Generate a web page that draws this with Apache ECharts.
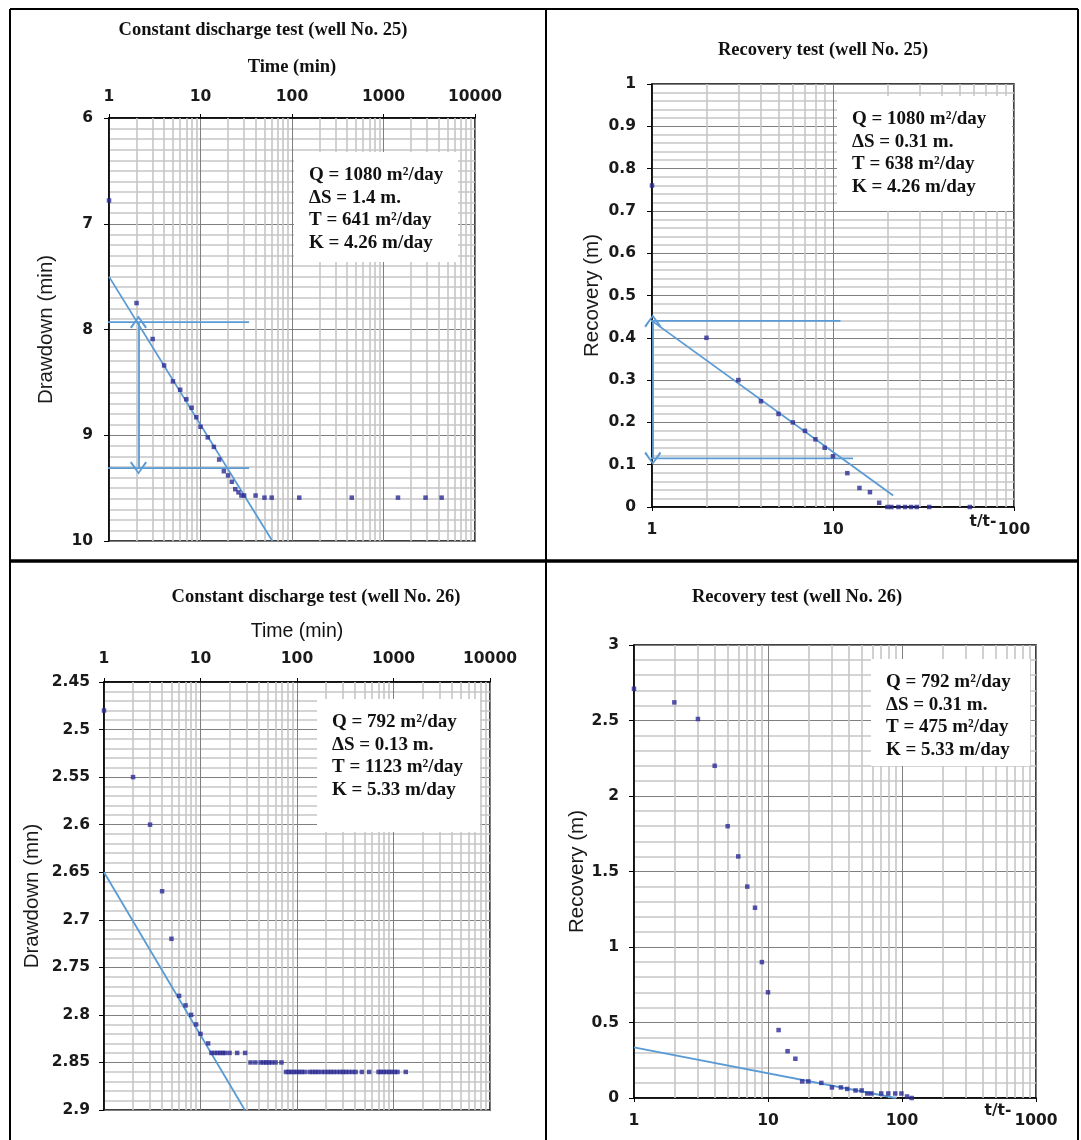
<!DOCTYPE html>
<html><head><meta charset="utf-8">
<script src="https://cdn.jsdelivr.net/npm/echarts@6/dist/echarts.min.js"></script>
<style>html,body{margin:0;padding:0;background:#fff}#c{width:1081px;height:1140px}</style>
</head><body><div id="c"></div>
<script>
// ---------- Panel 1: Constant discharge test (well No. 25) ----------
const P1_TIME = [1,2,3,4,5,6,7,8,9,10,12,14,16,18,20,22,24,26,28,30,40,50,60,120,450,1440,2880,4320];
const P1_DRAWDOWN = [6.78,7.75,8.09,8.34,8.49,8.57,8.66,8.74,8.83,8.92,9.02,9.11,9.23,9.34,9.38,9.44,9.51,9.54,9.57,9.57,9.57,9.59,9.59,9.59,9.59,9.59,9.59,9.59];
const P1_FIT_T = [1, 61];
const P1_FIT_S = [7.5, 10];
const P1_DS_LEVELS = [7.93, 9.31];
const P1_DS_T = [[0.14, 34], [0.157, 34]];
const P1_ARROW_T = 2.1;

// ---------- Panel 2: Recovery test (well No. 25) ----------
const P2_RATIO = [1,2,3,4,5,6,7,8,9,10,12,14,16,18,20,21,23,25,27,29,34,57];
const P2_RECOVERY = [0.76,0.40,0.30,0.25,0.22,0.20,0.18,0.16,0.14,0.12,0.08,0.045,0.035,0.01,0,0,0,0,0,0,0,0];
const P2_FIT_T = [1, 21.5];
const P2_FIT_R = [0.44, 0.027];
const P2_DS_LEVELS = [0.44, 0.115];
const P2_DS_T = [[0.61, 11], [0.6, 12.9]];
const P2_ARROW_T = 1.01;

// ---------- Panel 3: Constant discharge test (well No. 26) ----------
const P3_TIME = [1,2,3,4,5,6,7,8,9,10,12,
  13,14,15,16,17,18,20,24,29,
  33,37,42,45,48,51,55,60,69,
  77,82,87,93,99,105,112,120,135,145,155,165,180,195,210,225,240,260,280,300,320,345,375,405,470,560,700,740,790,840,900,960,1030,1100,1340];
const P3_DRAWDOWN = [2.48,2.55,2.60,2.67,2.72,2.78,2.79,2.80,2.81,2.82,2.83,
  2.84,2.84,2.84,2.84,2.84,2.84,2.84,2.84,2.84,
  2.85,2.85,2.85,2.85,2.85,2.85,2.85,2.85,2.85,
  2.86,2.86,2.86,2.86,2.86,2.86,2.86,2.86,2.86,2.86,2.86,2.86,2.86,2.86,2.86,2.86,2.86,2.86,2.86,2.86,2.86,2.86,2.86,2.86,2.86,2.86,2.86,2.86,2.86,2.86,2.86,2.86,2.86,2.86,2.86];
const P3_FIT_T = [1, 28.8];
const P3_FIT_S = [2.65, 2.9];

// ---------- Panel 4: Recovery test (well No. 26) ----------
const P4_RATIO = [1,2,3,4,5,6,7,8,9,10,12,14,16,18,20,25,30,35,39,45,50,55,59,70,79,89,99,109,118];
const P4_RECOVERY = [2.71,2.62,2.51,2.2,1.8,1.6,1.4,1.26,0.9,0.7,0.45,0.31,0.26,0.11,0.11,0.1,0.07,0.07,0.06,0.05,0.05,0.03,0.03,0.03,0.03,0.03,0.03,0.01,0];
const P4_FIT_T = [1, 90];
const P4_FIT_R = [0.335, 0];

const TITLES = [
  'Constant discharge test (well No. 25)',
  'Recovery test (well No. 25)',
  'Constant discharge test (well No. 26)',
  'Recovery test (well No. 26)'
];
const BOX_TEXT = [
  'Q = 1080 m²/day\nΔS = 1.4 m.\nT = 641 m²/day\nK = 4.26 m/day',
  'Q = 1080 m²/day\nΔS = 0.31 m.\nT = 638 m²/day\nK = 4.26 m/day',
  'Q = 792 m²/day\nΔS = 0.13 m.\nT = 1123 m²/day\nK = 5.33 m/day',
  'Q = 792 m²/day\nΔS = 0.31 m.\nT = 475 m²/day\nK = 5.33 m/day'
];

// ---------- helpers ----------
const zip = (a, b) => a.map((v, i) => [v, b[i]]);
const DOT = '#2b2b94';
const FIT = '#5b9bd5';
const MAJOR = '#7f7f7f';
const MINOR = '#c6c6c6';
const SANS = '"Liberation Sans", Arial, sans-serif';
const WIDE = '"DejaVu Sans", "Liberation Sans", sans-serif';
const SERIF = '"Liberation Serif", "Times New Roman", serif';
const CHEV = 'path://M0,9 L5,0 L10,9 L9,10 L5,2.2 L1,10 Z';

function minorLogValues(decades) {
  const out = [];
  for (let d = 0; d < decades; d++) for (let k = 2; k <= 9; k++) out.push({ xAxis: k * Math.pow(10, d) });
  return out;
}

const grids = [
  { left: 109, top: 118, width: 366, height: 423 },
  { left: 652, top: 84, width: 362, height: 423 },
  { left: 104, top: 682, width: 386, height: 428 },
  { left: 634, top: 645, width: 402, height: 453 }
].map(g => Object.assign({ show: true, borderColor: '#000', borderWidth: 1.5, backgroundColor: 'transparent' }, g));

const tickLabel = { fontFamily: WIDE, fontWeight: 'bold', fontSize: 15.5, color: '#1a1a1a' };

function xAxis(idx, max, pos, name, nameFont, nameGap, margin) {
  return {
    type: 'log', logBase: 10, gridIndex: idx, min: 1, max: max, position: pos,
    name: name, nameLocation: 'middle', nameGap: nameGap,
    nameTextStyle: nameFont,
    axisLine: { show: true, onZero: false, lineStyle: { color: '#000', width: 1.5 } },
    axisTick: { show: true, length: 4, lineStyle: { color: '#000' } },
    axisLabel: Object.assign({ margin: margin, formatter: v => String(Math.round(v)) }, tickLabel),
    splitLine: { show: true, lineStyle: { color: MAJOR, width: 1 } },
    minorTick: { show: false }, minorSplitLine: { show: false }
  };
}
function yAxis(idx, min, max, interval, inverse, minorN, name, nameGap, margin) {
  return {
    type: 'value', gridIndex: idx, min, max, interval, inverse,
    name, nameLocation: 'middle', nameGap,
    nameTextStyle: { fontFamily: SANS, fontSize: 20.5, color: '#1a1a1a' },
    axisLine: { show: true, onZero: false, lineStyle: { color: '#000', width: 1.5 } },
    axisTick: { show: true, length: 5, lineStyle: { color: '#000' } },
    axisLabel: Object.assign({ margin: margin }, tickLabel),
    splitLine: { show: true, lineStyle: { color: MAJOR, width: 1 } },
    minorTick: { show: false, splitNumber: minorN },
    minorSplitLine: { show: true, lineStyle: { color: MINOR, width: 1.6 } }
  };
}

function gridMinor(idx, decades) {
  return {
    type: 'line', xAxisIndex: idx, yAxisIndex: idx, data: [], silent: true, z: 1,
    markLine: {
      silent: true, symbol: ['none', 'none'], label: { show: false }, animation: false,
      lineStyle: { color: MINOR, width: 1.6, type: 'solid' },
      emphasis: { disabled: true },
      data: minorLogValues(decades)
    }
  };
}
function scatter(idx, data) {
  return { type: 'scatter', xAxisIndex: idx, yAxisIndex: idx, data, symbol: 'rect', symbolSize: 4.5,
    itemStyle: { color: DOT }, z: 6, silent: true, animation: false };
}
function fitLine(idx, data, clip) {
  return { type: 'line', xAxisIndex: idx, yAxisIndex: idx, data, symbol: 'none', clip: clip,
    lineStyle: { color: FIT, width: 1.8 }, z: 5, silent: true, animation: false };
}
function arrow(idx, x, y1, y2) {
  return {
    type: 'line', xAxisIndex: idx, yAxisIndex: idx, data: [], z: 5, silent: true,
    markLine: {
      silent: true, animation: false, symbol: [CHEV, CHEV], symbolSize: [17, 13],
      label: { show: false }, itemStyle: { color: FIT },
      lineStyle: { color: FIT, width: 1.8, type: 'solid' },
      emphasis: { disabled: true },
      data: [[{ coord: [x, y1] }, { coord: [x, y2] }]]
    }
  };
}

const series = [
  gridMinor(0, 4), gridMinor(1, 2), gridMinor(2, 4), gridMinor(3, 3),
  // panel 1
  fitLine(0, zip(P1_FIT_T, P1_FIT_S), true),
  fitLine(0, [[P1_DS_T[0][0], P1_DS_LEVELS[0]], [P1_DS_T[0][1], P1_DS_LEVELS[0]]], false),
  fitLine(0, [[P1_DS_T[1][0], P1_DS_LEVELS[1]], [P1_DS_T[1][1], P1_DS_LEVELS[1]]], false),
  arrow(0, P1_ARROW_T, P1_DS_LEVELS[0], P1_DS_LEVELS[1]),
  scatter(0, zip(P1_TIME, P1_DRAWDOWN)),
  // panel 2
  fitLine(1, zip(P2_FIT_T, P2_FIT_R), true),
  fitLine(1, [[P2_DS_T[0][0], P2_DS_LEVELS[0]], [P2_DS_T[0][1], P2_DS_LEVELS[0]]], false),
  fitLine(1, [[P2_DS_T[1][0], P2_DS_LEVELS[1]], [P2_DS_T[1][1], P2_DS_LEVELS[1]]], false),
  arrow(1, P2_ARROW_T, P2_DS_LEVELS[0], P2_DS_LEVELS[1]),
  scatter(1, zip(P2_RATIO, P2_RECOVERY)),
  // panel 3
  fitLine(2, zip(P3_FIT_T, P3_FIT_S), true),
  scatter(2, zip(P3_TIME, P3_DRAWDOWN)),
  // panel 4
  fitLine(3, zip(P4_FIT_T, P4_FIT_R), true),
  scatter(3, zip(P4_RATIO, P4_RECOVERY))
];

function box(x, y, w, h, text) {
  return [
    { type: 'rect', z: 50, silent: true, shape: { x, y, width: w, height: h }, style: { fill: '#fff' } },
    { type: 'text', z: 51, silent: true, x: x + 15, y: y + 12,
      style: { text, font: 'bold 19px ' + SERIF, fill: '#111', lineHeight: 22.6, verticalAlign: 'top', align: 'left' } }
  ];
}
function title(x, y, text) {
  return { type: 'text', z: 51, silent: true, x, y,
    style: { text, font: 'bold 18.5px ' + SERIF, fill: '#111', align: 'center', verticalAlign: 'middle' } };
}
function line(x1, y1, x2, y2, w) {
  return { type: 'line', z: 60, silent: true, shape: { x1, y1, x2, y2 }, style: { stroke: '#000', lineWidth: w } };
}
function tt(x, y) {
  return { type: 'text', z: 51, silent: true, x, y,
    style: { text: 't/t-', font: 'bold 15.5px ' + WIDE, fill: '#1a1a1a', align: 'center', verticalAlign: 'middle' } };
}

const graphics = [
  line(10, 9, 1078, 9, 2), line(10, 9, 10, 1140, 2), line(1078, 9, 1078, 1140, 2),
  line(546, 9, 546, 1140, 2), line(10, 561, 1078, 561, 3.5),
  title(263, 30, TITLES[0]),
  title(823, 50, TITLES[1]),
  title(316, 597, TITLES[2]),
  title(797, 597, TITLES[3]),
  tt(983, 522), tt(998, 1111)
].concat(box(294, 152, 164, 110, BOX_TEXT[0]))
 .concat(box(837, 96, 175, 115, BOX_TEXT[1]))
 .concat(box(317, 699, 163, 133, BOX_TEXT[2]))
 .concat(box(871, 659, 159, 107, BOX_TEXT[3]));

const option = {
  animation: false,
  backgroundColor: '#fff',
  grid: grids,
  xAxis: [
    xAxis(0, 10000, 'top', 'Time (min)', { fontFamily: SERIF, fontWeight: 'bold', fontSize: 18.5, color: '#111' }, 41, 13),
    xAxis(1, 100, 'bottom', '', {}, 30, 15),
    xAxis(2, 10000, 'top', 'Time (min)', { fontFamily: SANS, fontSize: 19.5, color: '#111' }, 40, 15),
    xAxis(3, 1000, 'bottom', '', {}, 30, 15)
  ],
  yAxis: [
    yAxis(0, 6, 10, 1, true, 10, 'Drawdown (min)', 52, 16),
    yAxis(1, 0, 1, 0.1, false, 5, 'Recovery (m)', 49, 16),
    yAxis(2, 2.45, 2.9, 0.05, true, 5, 'Drawdown (mn)', 61, 14),
    yAxis(3, 0, 3, 0.5, false, 5, 'Recovery (m)', 46, 15)
  ],
  series,
  graphic: { elements: graphics }
};

const chart = echarts.init(document.getElementById('c'), null, { renderer: 'canvas' });
chart.setOption(option);
</script>
</body></html>
